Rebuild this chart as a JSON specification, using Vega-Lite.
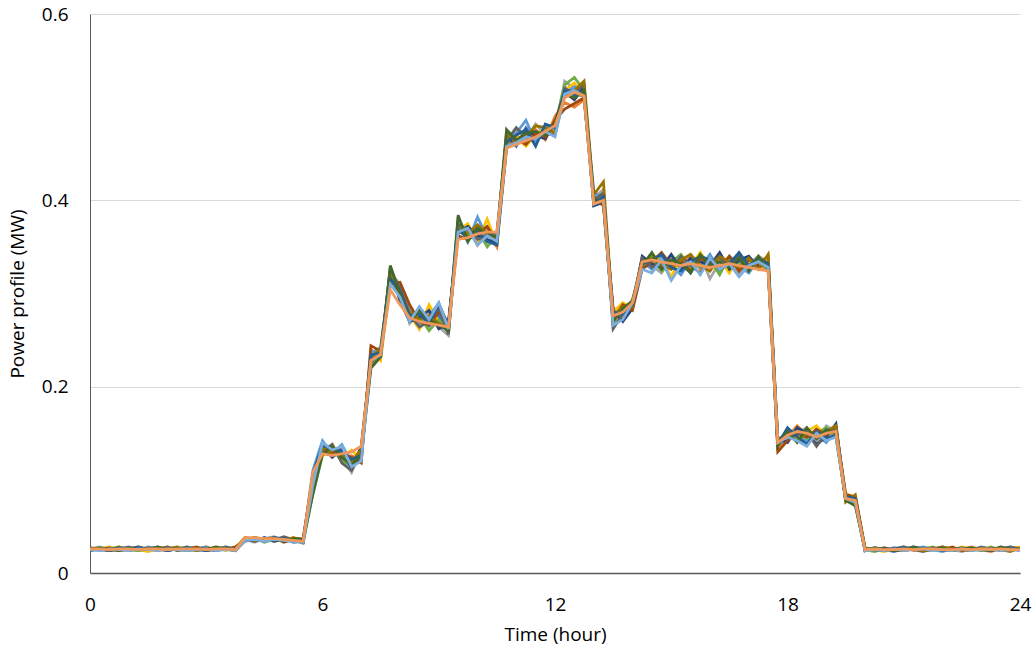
{
"$schema": "https://vega.github.io/schema/vega-lite/v6.json",
"width": 930,
"height": 559,
"autosize": {"type": "none"},
"padding": {"left": 90, "top": 14, "right": 13, "bottom": 77},
"background": "white",
"config": {"view": {"stroke": null}, "font": "Open Sans"},
"data": {"values": [
{"s":"a","t":0,"v":0.025},{"s":"a","t":0.25,"v":0.027},{"s":"a","t":0.5,"v":0.024},{"s":"a","t":0.75,"v":0.026},{"s":"a","t":1,"v":0.028},{"s":"a","t":1.25,"v":0.025},{"s":"a","t":1.5,"v":0.024},{"s":"a","t":1.75,"v":0.027},{"s":"a","t":2,"v":0.026},{"s":"a","t":2.25,"v":0.025},{"s":"a","t":2.5,"v":0.028},{"s":"a","t":2.75,"v":0.026},{"s":"a","t":3,"v":0.024},{"s":"a","t":3.25,"v":0.025},{"s":"a","t":3.5,"v":0.027},{"s":"a","t":3.75,"v":0.026},
{"s":"a","t":4,"v":0.037},{"s":"a","t":4.25,"v":0.034},{"s":"a","t":4.5,"v":0.038},{"s":"a","t":4.75,"v":0.035},{"s":"a","t":5,"v":0.037},{"s":"a","t":5.25,"v":0.033},
{"s":"a","t":5.5,"v":0.034},{"s":"a","t":5.75,"v":0.095},{"s":"a","t":6,"v":0.138},{"s":"a","t":6.25,"v":0.126},{"s":"a","t":6.5,"v":0.134},{"s":"a","t":6.75,"v":0.114},{"s":"a","t":7,"v":0.131},{"s":"a","t":7.25,"v":0.228},{"s":"a","t":7.5,"v":0.240},
{"s":"a","t":7.75,"v":0.325},{"s":"a","t":8,"v":0.298},{"s":"a","t":8.25,"v":0.272},{"s":"a","t":8.5,"v":0.281},{"s":"a","t":8.75,"v":0.265},{"s":"a","t":9,"v":0.276},{"s":"a","t":9.25,"v":0.258},
{"s":"a","t":9.5,"v":0.380},{"s":"a","t":9.75,"v":0.358},{"s":"a","t":10,"v":0.371},{"s":"a","t":10.25,"v":0.355},{"s":"a","t":10.5,"v":0.360},
{"s":"a","t":10.75,"v":0.470},{"s":"a","t":11,"v":0.458},{"s":"a","t":11.25,"v":0.478},{"s":"a","t":11.5,"v":0.466},{"s":"a","t":11.75,"v":0.480},{"s":"a","t":12,"v":0.474},
{"s":"a","t":12.25,"v":0.522},{"s":"a","t":12.5,"v":0.512},{"s":"a","t":12.75,"v":0.520},
{"s":"a","t":13,"v":0.396},{"s":"a","t":13.25,"v":0.410},{"s":"a","t":13.5,"v":0.272},{"s":"a","t":13.75,"v":0.285},{"s":"a","t":14,"v":0.290},
{"s":"a","t":14.25,"v":0.338},{"s":"a","t":14.5,"v":0.326},{"s":"a","t":14.75,"v":0.340},{"s":"a","t":15,"v":0.329},{"s":"a","t":15.25,"v":0.335},{"s":"a","t":15.5,"v":0.322},{"s":"a","t":15.75,"v":0.338},{"s":"a","t":16,"v":0.330},{"s":"a","t":16.25,"v":0.342},{"s":"a","t":16.5,"v":0.327},{"s":"a","t":16.75,"v":0.334},{"s":"a","t":17,"v":0.325},{"s":"a","t":17.25,"v":0.336},{"s":"a","t":17.5,"v":0.330},
{"s":"a","t":17.75,"v":0.142},{"s":"a","t":18,"v":0.152},{"s":"a","t":18.25,"v":0.146},{"s":"a","t":18.5,"v":0.140},{"s":"a","t":18.75,"v":0.155},{"s":"a","t":19,"v":0.144},{"s":"a","t":19.25,"v":0.157},
{"s":"a","t":19.5,"v":0.084},{"s":"a","t":19.75,"v":0.076},
{"s":"a","t":20,"v":0.024},{"s":"a","t":20.25,"v":0.027},{"s":"a","t":20.5,"v":0.025},{"s":"a","t":20.75,"v":0.023},{"s":"a","t":21,"v":0.026},{"s":"a","t":21.25,"v":0.028},{"s":"a","t":21.5,"v":0.025},{"s":"a","t":21.75,"v":0.024},{"s":"a","t":22,"v":0.026},{"s":"a","t":22.25,"v":0.027},{"s":"a","t":22.5,"v":0.024},{"s":"a","t":22.75,"v":0.025},{"s":"a","t":23,"v":0.028},{"s":"a","t":23.25,"v":0.026},{"s":"a","t":23.5,"v":0.024},{"s":"a","t":23.75,"v":0.025},{"s":"a","t":24,"v":0.027},

{"s":"b","t":0,"v":0.027},{"s":"b","t":0.25,"v":0.025},{"s":"b","t":0.5,"v":0.026},{"s":"b","t":0.75,"v":0.024},{"s":"b","t":1,"v":0.026},{"s":"b","t":1.25,"v":0.028},{"s":"b","t":1.5,"v":0.026},{"s":"b","t":1.75,"v":0.025},{"s":"b","t":2,"v":0.024},{"s":"b","t":2.25,"v":0.027},{"s":"b","t":2.5,"v":0.025},{"s":"b","t":2.75,"v":0.026},{"s":"b","t":3,"v":0.028},{"s":"b","t":3.25,"v":0.025},{"s":"b","t":3.5,"v":0.026},{"s":"b","t":3.75,"v":0.024},
{"s":"b","t":4,"v":0.035},{"s":"b","t":4.25,"v":0.038},{"s":"b","t":4.5,"v":0.036},{"s":"b","t":4.75,"v":0.034},{"s":"b","t":5,"v":0.038},{"s":"b","t":5.25,"v":0.036},
{"s":"b","t":5.5,"v":0.036},{"s":"b","t":5.75,"v":0.104},{"s":"b","t":6,"v":0.130},{"s":"b","t":6.25,"v":0.136},{"s":"b","t":6.5,"v":0.125},{"s":"b","t":6.75,"v":0.126},{"s":"b","t":7,"v":0.120},{"s":"b","t":7.25,"v":0.240},{"s":"b","t":7.5,"v":0.230},
{"s":"b","t":7.75,"v":0.312},{"s":"b","t":8,"v":0.305},{"s":"b","t":8.25,"v":0.285},{"s":"b","t":8.5,"v":0.262},{"s":"b","t":8.75,"v":0.278},{"s":"b","t":9,"v":0.268},{"s":"b","t":9.25,"v":0.270},
{"s":"b","t":9.5,"v":0.365},{"s":"b","t":9.75,"v":0.370},{"s":"b","t":10,"v":0.352},{"s":"b","t":10.25,"v":0.368},{"s":"b","t":10.5,"v":0.350},
{"s":"b","t":10.75,"v":0.455},{"s":"b","t":11,"v":0.470},{"s":"b","t":11.25,"v":0.462},{"s":"b","t":11.5,"v":0.476},{"s":"b","t":11.75,"v":0.465},{"s":"b","t":12,"v":0.490},
{"s":"b","t":12.25,"v":0.505},{"s":"b","t":12.5,"v":0.500},{"s":"b","t":12.75,"v":0.508},
{"s":"b","t":13,"v":0.405},{"s":"b","t":13.25,"v":0.398},{"s":"b","t":13.5,"v":0.285},{"s":"b","t":13.75,"v":0.276},{"s":"b","t":14,"v":0.292},
{"s":"b","t":14.25,"v":0.328},{"s":"b","t":14.5,"v":0.338},{"s":"b","t":14.75,"v":0.325},{"s":"b","t":15,"v":0.336},{"s":"b","t":15.25,"v":0.330},{"s":"b","t":15.5,"v":0.340},{"s":"b","t":15.75,"v":0.326},{"s":"b","t":16,"v":0.334},{"s":"b","t":16.25,"v":0.322},{"s":"b","t":16.5,"v":0.338},{"s":"b","t":16.75,"v":0.328},{"s":"b","t":17,"v":0.336},{"s":"b","t":17.25,"v":0.330},{"s":"b","t":17.5,"v":0.326},
{"s":"b","t":17.75,"v":0.134},{"s":"b","t":18,"v":0.146},{"s":"b","t":18.25,"v":0.158},{"s":"b","t":18.5,"v":0.148},{"s":"b","t":18.75,"v":0.142},{"s":"b","t":19,"v":0.152},{"s":"b","t":19.25,"v":0.148},
{"s":"b","t":19.5,"v":0.080},{"s":"b","t":19.75,"v":0.082},
{"s":"b","t":20,"v":0.026},{"s":"b","t":20.25,"v":0.024},{"s":"b","t":20.5,"v":0.027},{"s":"b","t":20.75,"v":0.025},{"s":"b","t":21,"v":0.028},{"s":"b","t":21.25,"v":0.024},{"s":"b","t":21.5,"v":0.026},{"s":"b","t":21.75,"v":0.025},{"s":"b","t":22,"v":0.027},{"s":"b","t":22.25,"v":0.024},{"s":"b","t":22.5,"v":0.026},{"s":"b","t":22.75,"v":0.028},{"s":"b","t":23,"v":0.025},{"s":"b","t":23.25,"v":0.023},{"s":"b","t":23.5,"v":0.026},{"s":"b","t":23.75,"v":0.027},{"s":"b","t":24,"v":0.025},

{"s":"c","t":0,"v":0.026},{"s":"c","t":0.25,"v":0.028},{"s":"c","t":0.5,"v":0.025},{"s":"c","t":0.75,"v":0.027},{"s":"c","t":1,"v":0.024},{"s":"c","t":1.25,"v":0.026},{"s":"c","t":1.5,"v":0.027},{"s":"c","t":1.75,"v":0.025},{"s":"c","t":2,"v":0.028},{"s":"c","t":2.25,"v":0.026},{"s":"c","t":2.5,"v":0.024},{"s":"c","t":2.75,"v":0.027},{"s":"c","t":3,"v":0.025},{"s":"c","t":3.25,"v":0.026},{"s":"c","t":3.5,"v":0.028},{"s":"c","t":3.75,"v":0.025},
{"s":"c","t":4,"v":0.036},{"s":"c","t":4.25,"v":0.033},{"s":"c","t":4.5,"v":0.037},{"s":"c","t":4.75,"v":0.039},{"s":"c","t":5,"v":0.034},{"s":"c","t":5.25,"v":0.037},
{"s":"c","t":5.5,"v":0.033},{"s":"c","t":5.75,"v":0.088},{"s":"c","t":6,"v":0.140},{"s":"c","t":6.25,"v":0.132},{"s":"c","t":6.5,"v":0.122},{"s":"c","t":6.75,"v":0.108},{"s":"c","t":7,"v":0.134},{"s":"c","t":7.25,"v":0.225},{"s":"c","t":7.5,"v":0.236},
{"s":"c","t":7.75,"v":0.322},{"s":"c","t":8,"v":0.310},{"s":"c","t":8.25,"v":0.268},{"s":"c","t":8.5,"v":0.280},{"s":"c","t":8.75,"v":0.272},{"s":"c","t":9,"v":0.264},{"s":"c","t":9.25,"v":0.255},
{"s":"c","t":9.5,"v":0.378},{"s":"c","t":9.75,"v":0.366},{"s":"c","t":10,"v":0.360},{"s":"c","t":10.25,"v":0.372},{"s":"c","t":10.5,"v":0.358},
{"s":"c","t":10.75,"v":0.460},{"s":"c","t":11,"v":0.475},{"s":"c","t":11.25,"v":0.466},{"s":"c","t":11.5,"v":0.482},{"s":"c","t":11.75,"v":0.470},{"s":"c","t":12,"v":0.476},
{"s":"c","t":12.25,"v":0.528},{"s":"c","t":12.5,"v":0.520},{"s":"c","t":12.75,"v":0.514},
{"s":"c","t":13,"v":0.402},{"s":"c","t":13.25,"v":0.412},{"s":"c","t":13.5,"v":0.265},{"s":"c","t":13.75,"v":0.280},{"s":"c","t":14,"v":0.286},
{"s":"c","t":14.25,"v":0.336},{"s":"c","t":14.5,"v":0.330},{"s":"c","t":14.75,"v":0.322},{"s":"c","t":15,"v":0.338},{"s":"c","t":15.25,"v":0.332},{"s":"c","t":15.5,"v":0.326},{"s":"c","t":15.75,"v":0.340},{"s":"c","t":16,"v":0.316},{"s":"c","t":16.25,"v":0.334},{"s":"c","t":16.5,"v":0.338},{"s":"c","t":16.75,"v":0.320},{"s":"c","t":17,"v":0.332},{"s":"c","t":17.25,"v":0.340},{"s":"c","t":17.5,"v":0.334},
{"s":"c","t":17.75,"v":0.140},{"s":"c","t":18,"v":0.154},{"s":"c","t":18.25,"v":0.150},{"s":"c","t":18.5,"v":0.156},{"s":"c","t":18.75,"v":0.140},{"s":"c","t":19,"v":0.158},{"s":"c","t":19.25,"v":0.152},
{"s":"c","t":19.5,"v":0.078},{"s":"c","t":19.75,"v":0.076},
{"s":"c","t":20,"v":0.025},{"s":"c","t":20.25,"v":0.027},{"s":"c","t":20.5,"v":0.024},{"s":"c","t":20.75,"v":0.026},{"s":"c","t":21,"v":0.025},{"s":"c","t":21.25,"v":0.028},{"s":"c","t":21.5,"v":0.026},{"s":"c","t":21.75,"v":0.024},{"s":"c","t":22,"v":0.027},{"s":"c","t":22.25,"v":0.025},{"s":"c","t":22.5,"v":0.023},{"s":"c","t":22.75,"v":0.026},{"s":"c","t":23,"v":0.027},{"s":"c","t":23.25,"v":0.025},{"s":"c","t":23.5,"v":0.028},{"s":"c","t":23.75,"v":0.024},{"s":"c","t":24,"v":0.026},

{"s":"d","t":0,"v":0.024},{"s":"d","t":0.25,"v":0.026},{"s":"d","t":0.5,"v":0.028},{"s":"d","t":0.75,"v":0.025},{"s":"d","t":1,"v":0.027},{"s":"d","t":1.25,"v":0.025},{"s":"d","t":1.5,"v":0.023},{"s":"d","t":1.75,"v":0.026},{"s":"d","t":2,"v":0.028},{"s":"d","t":2.25,"v":0.024},{"s":"d","t":2.5,"v":0.026},{"s":"d","t":2.75,"v":0.027},{"s":"d","t":3,"v":0.025},{"s":"d","t":3.25,"v":0.028},{"s":"d","t":3.5,"v":0.024},{"s":"d","t":3.75,"v":0.027},
{"s":"d","t":4,"v":0.038},{"s":"d","t":4.25,"v":0.036},{"s":"d","t":4.5,"v":0.034},{"s":"d","t":4.75,"v":0.037},{"s":"d","t":5,"v":0.035},{"s":"d","t":5.25,"v":0.038},
{"s":"d","t":5.5,"v":0.035},{"s":"d","t":5.75,"v":0.098},{"s":"d","t":6,"v":0.128},{"s":"d","t":6.25,"v":0.138},{"s":"d","t":6.5,"v":0.124},{"s":"d","t":6.75,"v":0.132},{"s":"d","t":7,"v":0.122},{"s":"d","t":7.25,"v":0.238},{"s":"d","t":7.5,"v":0.228},
{"s":"d","t":7.75,"v":0.316},{"s":"d","t":8,"v":0.296},{"s":"d","t":8.25,"v":0.276},{"s":"d","t":8.5,"v":0.262},{"s":"d","t":8.75,"v":0.288},{"s":"d","t":9,"v":0.270},{"s":"d","t":9.25,"v":0.262},
{"s":"d","t":9.5,"v":0.368},{"s":"d","t":9.75,"v":0.375},{"s":"d","t":10,"v":0.356},{"s":"d","t":10.25,"v":0.380},{"s":"d","t":10.5,"v":0.352},
{"s":"d","t":10.75,"v":0.462},{"s":"d","t":11,"v":0.468},{"s":"d","t":11.25,"v":0.458},{"s":"d","t":11.5,"v":0.470},{"s":"d","t":11.75,"v":0.478},{"s":"d","t":12,"v":0.472},
{"s":"d","t":12.25,"v":0.518},{"s":"d","t":12.5,"v":0.526},{"s":"d","t":12.75,"v":0.512},
{"s":"d","t":13,"v":0.398},{"s":"d","t":13.25,"v":0.402},{"s":"d","t":13.5,"v":0.280},{"s":"d","t":13.75,"v":0.290},{"s":"d","t":14,"v":0.284},
{"s":"d","t":14.25,"v":0.330},{"s":"d","t":14.5,"v":0.342},{"s":"d","t":14.75,"v":0.336},{"s":"d","t":15,"v":0.318},{"s":"d","t":15.25,"v":0.338},{"s":"d","t":15.5,"v":0.330},{"s":"d","t":15.75,"v":0.344},{"s":"d","t":16,"v":0.328},{"s":"d","t":16.25,"v":0.336},{"s":"d","t":16.5,"v":0.322},{"s":"d","t":16.75,"v":0.340},{"s":"d","t":17,"v":0.334},{"s":"d","t":17.25,"v":0.326},{"s":"d","t":17.5,"v":0.338},
{"s":"d","t":17.75,"v":0.136},{"s":"d","t":18,"v":0.150},{"s":"d","t":18.25,"v":0.144},{"s":"d","t":18.5,"v":0.152},{"s":"d","t":18.75,"v":0.158},{"s":"d","t":19,"v":0.146},{"s":"d","t":19.25,"v":0.150},
{"s":"d","t":19.5,"v":0.086},{"s":"d","t":19.75,"v":0.080},
{"s":"d","t":20,"v":0.027},{"s":"d","t":20.25,"v":0.025},{"s":"d","t":20.5,"v":0.023},{"s":"d","t":20.75,"v":0.026},{"s":"d","t":21,"v":0.028},{"s":"d","t":21.25,"v":0.025},{"s":"d","t":21.5,"v":0.027},{"s":"d","t":21.75,"v":0.024},{"s":"d","t":22,"v":0.026},{"s":"d","t":22.25,"v":0.025},{"s":"d","t":22.5,"v":0.028},{"s":"d","t":22.75,"v":0.026},{"s":"d","t":23,"v":0.024},{"s":"d","t":23.25,"v":0.027},{"s":"d","t":23.5,"v":0.025},{"s":"d","t":23.75,"v":0.026},{"s":"d","t":24,"v":0.028},

{"s":"e","t":0,"v":0.026},{"s":"e","t":0.25,"v":0.024},{"s":"e","t":0.5,"v":0.027},{"s":"e","t":0.75,"v":0.025},{"s":"e","t":1,"v":0.026},{"s":"e","t":1.25,"v":0.024},{"s":"e","t":1.5,"v":0.028},{"s":"e","t":1.75,"v":0.026},{"s":"e","t":2,"v":0.025},{"s":"e","t":2.25,"v":0.027},{"s":"e","t":2.5,"v":0.024},{"s":"e","t":2.75,"v":0.026},{"s":"e","t":3,"v":0.028},{"s":"e","t":3.25,"v":0.024},{"s":"e","t":3.5,"v":0.026},{"s":"e","t":3.75,"v":0.025},
{"s":"e","t":4,"v":0.034},{"s":"e","t":4.25,"v":0.037},{"s":"e","t":4.5,"v":0.035},{"s":"e","t":4.75,"v":0.038},{"s":"e","t":5,"v":0.036},{"s":"e","t":5.25,"v":0.034},
{"s":"e","t":5.5,"v":0.034},{"s":"e","t":5.75,"v":0.110},{"s":"e","t":6,"v":0.142},{"s":"e","t":6.25,"v":0.128},{"s":"e","t":6.5,"v":0.138},{"s":"e","t":6.75,"v":0.118},{"s":"e","t":7,"v":0.124},{"s":"e","t":7.25,"v":0.236},{"s":"e","t":7.5,"v":0.242},
{"s":"e","t":7.75,"v":0.318},{"s":"e","t":8,"v":0.300},{"s":"e","t":8.25,"v":0.282},{"s":"e","t":8.5,"v":0.268},{"s":"e","t":8.75,"v":0.275},{"s":"e","t":9,"v":0.290},{"s":"e","t":9.25,"v":0.264},
{"s":"e","t":9.5,"v":0.375},{"s":"e","t":9.75,"v":0.355},{"s":"e","t":10,"v":0.382},{"s":"e","t":10.25,"v":0.360},{"s":"e","t":10.5,"v":0.366},
{"s":"e","t":10.75,"v":0.466},{"s":"e","t":11,"v":0.472},{"s":"e","t":11.25,"v":0.486},{"s":"e","t":11.5,"v":0.462},{"s":"e","t":11.75,"v":0.474},{"s":"e","t":12,"v":0.478},
{"s":"e","t":12.25,"v":0.514},{"s":"e","t":12.5,"v":0.522},{"s":"e","t":12.75,"v":0.516},
{"s":"e","t":13,"v":0.410},{"s":"e","t":13.25,"v":0.400},{"s":"e","t":13.5,"v":0.276},{"s":"e","t":13.75,"v":0.282},{"s":"e","t":14,"v":0.288},
{"s":"e","t":14.25,"v":0.334},{"s":"e","t":14.5,"v":0.326},{"s":"e","t":14.75,"v":0.338},{"s":"e","t":15,"v":0.330},{"s":"e","t":15.25,"v":0.320},{"s":"e","t":15.5,"v":0.336},{"s":"e","t":15.75,"v":0.328},{"s":"e","t":16,"v":0.342},{"s":"e","t":16.25,"v":0.324},{"s":"e","t":16.5,"v":0.338},{"s":"e","t":16.75,"v":0.330},{"s":"e","t":17,"v":0.322},{"s":"e","t":17.25,"v":0.336},{"s":"e","t":17.5,"v":0.328},
{"s":"e","t":17.75,"v":0.138},{"s":"e","t":18,"v":0.144},{"s":"e","t":18.25,"v":0.152},{"s":"e","t":18.5,"v":0.142},{"s":"e","t":18.75,"v":0.148},{"s":"e","t":19,"v":0.140},{"s":"e","t":19.25,"v":0.154},
{"s":"e","t":19.5,"v":0.082},{"s":"e","t":19.75,"v":0.078},
{"s":"e","t":20,"v":0.024},{"s":"e","t":20.25,"v":0.026},{"s":"e","t":20.5,"v":0.025},{"s":"e","t":20.75,"v":0.027},{"s":"e","t":21,"v":0.024},{"s":"e","t":21.25,"v":0.026},{"s":"e","t":21.5,"v":0.028},{"s":"e","t":21.75,"v":0.025},{"s":"e","t":22,"v":0.023},{"s":"e","t":22.25,"v":0.026},{"s":"e","t":22.5,"v":0.025},{"s":"e","t":22.75,"v":0.027},{"s":"e","t":23,"v":0.024},{"s":"e","t":23.25,"v":0.026},{"s":"e","t":23.5,"v":0.025},{"s":"e","t":23.75,"v":0.028},{"s":"e","t":24,"v":0.025},

{"s":"f","t":0,"v":0.025},{"s":"f","t":0.25,"v":0.027},{"s":"f","t":0.5,"v":0.026},{"s":"f","t":0.75,"v":0.028},{"s":"f","t":1,"v":0.025},{"s":"f","t":1.25,"v":0.024},{"s":"f","t":1.5,"v":0.026},{"s":"f","t":1.75,"v":0.027},{"s":"f","t":2,"v":0.025},{"s":"f","t":2.25,"v":0.026},{"s":"f","t":2.5,"v":0.028},{"s":"f","t":2.75,"v":0.024},{"s":"f","t":3,"v":0.027},{"s":"f","t":3.25,"v":0.026},{"s":"f","t":3.5,"v":0.025},{"s":"f","t":3.75,"v":0.027},
{"s":"f","t":4,"v":0.036},{"s":"f","t":4.25,"v":0.038},{"s":"f","t":4.5,"v":0.033},{"s":"f","t":4.75,"v":0.036},{"s":"f","t":5,"v":0.038},{"s":"f","t":5.25,"v":0.035},
{"s":"f","t":5.5,"v":0.032},{"s":"f","t":5.75,"v":0.085},{"s":"f","t":6,"v":0.126},{"s":"f","t":6.25,"v":0.134},{"s":"f","t":6.5,"v":0.120},{"s":"f","t":6.75,"v":0.116},{"s":"f","t":7,"v":0.128},{"s":"f","t":7.25,"v":0.222},{"s":"f","t":7.5,"v":0.234},
{"s":"f","t":7.75,"v":0.320},{"s":"f","t":8,"v":0.304},{"s":"f","t":8.25,"v":0.274},{"s":"f","t":8.5,"v":0.276},{"s":"f","t":8.75,"v":0.260},{"s":"f","t":9,"v":0.272},{"s":"f","t":9.25,"v":0.260},
{"s":"f","t":9.5,"v":0.370},{"s":"f","t":9.75,"v":0.362},{"s":"f","t":10,"v":0.368},{"s":"f","t":10.25,"v":0.350},{"s":"f","t":10.5,"v":0.362},
{"s":"f","t":10.75,"v":0.458},{"s":"f","t":11,"v":0.464},{"s":"f","t":11.25,"v":0.470},{"s":"f","t":11.5,"v":0.468},{"s":"f","t":11.75,"v":0.476},{"s":"f","t":12,"v":0.480},
{"s":"f","t":12.25,"v":0.524},{"s":"f","t":12.5,"v":0.532},{"s":"f","t":12.75,"v":0.518},
{"s":"f","t":13,"v":0.398},{"s":"f","t":13.25,"v":0.404},{"s":"f","t":13.5,"v":0.268},{"s":"f","t":13.75,"v":0.274},{"s":"f","t":14,"v":0.294},
{"s":"f","t":14.25,"v":0.332},{"s":"f","t":14.5,"v":0.340},{"s":"f","t":14.75,"v":0.324},{"s":"f","t":15,"v":0.334},{"s":"f","t":15.25,"v":0.342},{"s":"f","t":15.5,"v":0.328},{"s":"f","t":15.75,"v":0.330},{"s":"f","t":16,"v":0.336},{"s":"f","t":16.25,"v":0.320},{"s":"f","t":16.5,"v":0.340},{"s":"f","t":16.75,"v":0.332},{"s":"f","t":17,"v":0.328},{"s":"f","t":17.25,"v":0.338},{"s":"f","t":17.5,"v":0.324},
{"s":"f","t":17.75,"v":0.140},{"s":"f","t":18,"v":0.148},{"s":"f","t":18.25,"v":0.154},{"s":"f","t":18.5,"v":0.144},{"s":"f","t":18.75,"v":0.150},{"s":"f","t":19,"v":0.156},{"s":"f","t":19.25,"v":0.146},
{"s":"f","t":19.5,"v":0.080},{"s":"f","t":19.75,"v":0.074},
{"s":"f","t":20,"v":0.025},{"s":"f","t":20.25,"v":0.023},{"s":"f","t":20.5,"v":0.026},{"s":"f","t":20.75,"v":0.024},{"s":"f","t":21,"v":0.027},{"s":"f","t":21.25,"v":0.025},{"s":"f","t":21.5,"v":0.026},{"s":"f","t":21.75,"v":0.028},{"s":"f","t":22,"v":0.024},{"s":"f","t":22.25,"v":0.025},{"s":"f","t":22.5,"v":0.027},{"s":"f","t":22.75,"v":0.026},{"s":"f","t":23,"v":0.024},{"s":"f","t":23.25,"v":0.028},{"s":"f","t":23.5,"v":0.025},{"s":"f","t":23.75,"v":0.027},{"s":"f","t":24,"v":0.024},

{"s":"g","t":0,"v":0.027},{"s":"g","t":0.25,"v":0.025},{"s":"g","t":0.5,"v":0.024},{"s":"g","t":0.75,"v":0.026},{"s":"g","t":1,"v":0.027},{"s":"g","t":1.25,"v":0.026},{"s":"g","t":1.5,"v":0.025},{"s":"g","t":1.75,"v":0.028},{"s":"g","t":2,"v":0.024},{"s":"g","t":2.25,"v":0.026},{"s":"g","t":2.5,"v":0.027},{"s":"g","t":2.75,"v":0.025},{"s":"g","t":3,"v":0.026},{"s":"g","t":3.25,"v":0.024},{"s":"g","t":3.5,"v":0.027},{"s":"g","t":3.75,"v":0.026},
{"s":"g","t":4,"v":0.037},{"s":"g","t":4.25,"v":0.035},{"s":"g","t":4.5,"v":0.038},{"s":"g","t":4.75,"v":0.034},{"s":"g","t":5,"v":0.036},{"s":"g","t":5.25,"v":0.037},
{"s":"g","t":5.5,"v":0.036},{"s":"g","t":5.75,"v":0.092},{"s":"g","t":6,"v":0.136},{"s":"g","t":6.25,"v":0.124},{"s":"g","t":6.5,"v":0.132},{"s":"g","t":6.75,"v":0.112},{"s":"g","t":7,"v":0.136},{"s":"g","t":7.25,"v":0.230},{"s":"g","t":7.5,"v":0.232},
{"s":"g","t":7.75,"v":0.328},{"s":"g","t":8,"v":0.292},{"s":"g","t":8.25,"v":0.270},{"s":"g","t":8.5,"v":0.274},{"s":"g","t":8.75,"v":0.282},{"s":"g","t":9,"v":0.262},{"s":"g","t":9.25,"v":0.268},
{"s":"g","t":9.5,"v":0.366},{"s":"g","t":9.75,"v":0.372},{"s":"g","t":10,"v":0.362},{"s":"g","t":10.25,"v":0.358},{"s":"g","t":10.5,"v":0.354},
{"s":"g","t":10.75,"v":0.468},{"s":"g","t":11,"v":0.460},{"s":"g","t":11.25,"v":0.474},{"s":"g","t":11.5,"v":0.470},{"s":"g","t":11.75,"v":0.466},{"s":"g","t":12,"v":0.484},
{"s":"g","t":12.25,"v":0.516},{"s":"g","t":12.5,"v":0.508},{"s":"g","t":12.75,"v":0.522},
{"s":"g","t":13,"v":0.394},{"s":"g","t":13.25,"v":0.398},{"s":"g","t":13.5,"v":0.282},{"s":"g","t":13.75,"v":0.270},{"s":"g","t":14,"v":0.284},
{"s":"g","t":14.25,"v":0.340},{"s":"g","t":14.5,"v":0.332},{"s":"g","t":14.75,"v":0.328},{"s":"g","t":15,"v":0.342},{"s":"g","t":15.25,"v":0.326},{"s":"g","t":15.5,"v":0.338},{"s":"g","t":15.75,"v":0.334},{"s":"g","t":16,"v":0.330},{"s":"g","t":16.25,"v":0.344},{"s":"g","t":16.5,"v":0.326},{"s":"g","t":16.75,"v":0.336},{"s":"g","t":17,"v":0.340},{"s":"g","t":17.25,"v":0.328},{"s":"g","t":17.5,"v":0.334},
{"s":"g","t":17.75,"v":0.144},{"s":"g","t":18,"v":0.140},{"s":"g","t":18.25,"v":0.156},{"s":"g","t":18.5,"v":0.150},{"s":"g","t":18.75,"v":0.138},{"s":"g","t":19,"v":0.146},{"s":"g","t":19.25,"v":0.160},
{"s":"g","t":19.5,"v":0.078},{"s":"g","t":19.75,"v":0.080},
{"s":"g","t":20,"v":0.026},{"s":"g","t":20.25,"v":0.025},{"s":"g","t":20.5,"v":0.027},{"s":"g","t":20.75,"v":0.024},{"s":"g","t":21,"v":0.025},{"s":"g","t":21.25,"v":0.027},{"s":"g","t":21.5,"v":0.024},{"s":"g","t":21.75,"v":0.026},{"s":"g","t":22,"v":0.028},{"s":"g","t":22.25,"v":0.025},{"s":"g","t":22.5,"v":0.026},{"s":"g","t":22.75,"v":0.024},{"s":"g","t":23,"v":0.027},{"s":"g","t":23.25,"v":0.025},{"s":"g","t":23.5,"v":0.026},{"s":"g","t":23.75,"v":0.024},{"s":"g","t":24,"v":0.026},

{"s":"h","t":0,"v":0.026},{"s":"h","t":0.25,"v":0.025},{"s":"h","t":0.5,"v":0.027},{"s":"h","t":0.75,"v":0.024},{"s":"h","t":1,"v":0.025},{"s":"h","t":1.25,"v":0.027},{"s":"h","t":1.5,"v":0.026},{"s":"h","t":1.75,"v":0.024},{"s":"h","t":2,"v":0.027},{"s":"h","t":2.25,"v":0.025},{"s":"h","t":2.5,"v":0.026},{"s":"h","t":2.75,"v":0.028},{"s":"h","t":3,"v":0.024},{"s":"h","t":3.25,"v":0.026},{"s":"h","t":3.5,"v":0.025},{"s":"h","t":3.75,"v":0.028},
{"s":"h","t":4,"v":0.035},{"s":"h","t":4.25,"v":0.037},{"s":"h","t":4.5,"v":0.036},{"s":"h","t":4.75,"v":0.038},{"s":"h","t":5,"v":0.033},{"s":"h","t":5.25,"v":0.036},
{"s":"h","t":5.5,"v":0.037},{"s":"h","t":5.75,"v":0.102},{"s":"h","t":6,"v":0.132},{"s":"h","t":6.25,"v":0.130},{"s":"h","t":6.5,"v":0.128},{"s":"h","t":6.75,"v":0.124},{"s":"h","t":7,"v":0.118},{"s":"h","t":7.25,"v":0.244},{"s":"h","t":7.5,"v":0.238},
{"s":"h","t":7.75,"v":0.310},{"s":"h","t":8,"v":0.312},{"s":"h","t":8.25,"v":0.288},{"s":"h","t":8.5,"v":0.270},{"s":"h","t":8.75,"v":0.266},{"s":"h","t":9,"v":0.280},{"s":"h","t":9.25,"v":0.268},
{"s":"h","t":9.5,"v":0.362},{"s":"h","t":9.75,"v":0.358},{"s":"h","t":10,"v":0.364},{"s":"h","t":10.25,"v":0.372},{"s":"h","t":10.5,"v":0.356},
{"s":"h","t":10.75,"v":0.456},{"s":"h","t":11,"v":0.466},{"s":"h","t":11.25,"v":0.460},{"s":"h","t":11.5,"v":0.472},{"s":"h","t":11.75,"v":0.468},{"s":"h","t":12,"v":0.486},
{"s":"h","t":12.25,"v":0.498},{"s":"h","t":12.5,"v":0.504},{"s":"h","t":12.75,"v":0.510},
{"s":"h","t":13,"v":0.404},{"s":"h","t":13.25,"v":0.394},{"s":"h","t":13.5,"v":0.272},{"s":"h","t":13.75,"v":0.288},{"s":"h","t":14,"v":0.282},
{"s":"h","t":14.25,"v":0.326},{"s":"h","t":14.5,"v":0.334},{"s":"h","t":14.75,"v":0.344},{"s":"h","t":15,"v":0.330},{"s":"h","t":15.25,"v":0.336},{"s":"h","t":15.5,"v":0.324},{"s":"h","t":15.75,"v":0.338},{"s":"h","t":16,"v":0.332},{"s":"h","t":16.25,"v":0.328},{"s":"h","t":16.5,"v":0.340},{"s":"h","t":16.75,"v":0.324},{"s":"h","t":17,"v":0.336},{"s":"h","t":17.25,"v":0.332},{"s":"h","t":17.5,"v":0.340},
{"s":"h","t":17.75,"v":0.130},{"s":"h","t":18,"v":0.142},{"s":"h","t":18.25,"v":0.150},{"s":"h","t":18.5,"v":0.146},{"s":"h","t":18.75,"v":0.154},{"s":"h","t":19,"v":0.148},{"s":"h","t":19.25,"v":0.156},
{"s":"h","t":19.5,"v":0.084},{"s":"h","t":19.75,"v":0.082},
{"s":"h","t":20,"v":0.024},{"s":"h","t":20.25,"v":0.027},{"s":"h","t":20.5,"v":0.025},{"s":"h","t":20.75,"v":0.026},{"s":"h","t":21,"v":0.024},{"s":"h","t":21.25,"v":0.026},{"s":"h","t":21.5,"v":0.025},{"s":"h","t":21.75,"v":0.027},{"s":"h","t":22,"v":0.025},{"s":"h","t":22.25,"v":0.028},{"s":"h","t":22.5,"v":0.024},{"s":"h","t":22.75,"v":0.026},{"s":"h","t":23,"v":0.025},{"s":"h","t":23.25,"v":0.027},{"s":"h","t":23.5,"v":0.024},{"s":"h","t":23.75,"v":0.026},{"s":"h","t":24,"v":0.025},

{"s":"i","t":0,"v":0.025},{"s":"i","t":0.25,"v":0.026},{"s":"i","t":0.5,"v":0.024},{"s":"i","t":0.75,"v":0.027},{"s":"i","t":1,"v":0.026},{"s":"i","t":1.25,"v":0.025},{"s":"i","t":1.5,"v":0.027},{"s":"i","t":1.75,"v":0.026},{"s":"i","t":2,"v":0.028},{"s":"i","t":2.25,"v":0.024},{"s":"i","t":2.5,"v":0.025},{"s":"i","t":2.75,"v":0.026},{"s":"i","t":3,"v":0.027},{"s":"i","t":3.25,"v":0.025},{"s":"i","t":3.5,"v":0.028},{"s":"i","t":3.75,"v":0.026},
{"s":"i","t":4,"v":0.036},{"s":"i","t":4.25,"v":0.034},{"s":"i","t":4.5,"v":0.037},{"s":"i","t":4.75,"v":0.035},{"s":"i","t":5,"v":0.039},{"s":"i","t":5.25,"v":0.036},
{"s":"i","t":5.5,"v":0.034},{"s":"i","t":5.75,"v":0.090},{"s":"i","t":6,"v":0.130},{"s":"i","t":6.25,"v":0.138},{"s":"i","t":6.5,"v":0.118},{"s":"i","t":6.75,"v":0.110},{"s":"i","t":7,"v":0.130},{"s":"i","t":7.25,"v":0.226},{"s":"i","t":7.5,"v":0.236},
{"s":"i","t":7.75,"v":0.322},{"s":"i","t":8,"v":0.306},{"s":"i","t":8.25,"v":0.278},{"s":"i","t":8.5,"v":0.264},{"s":"i","t":8.75,"v":0.270},{"s":"i","t":9,"v":0.284},{"s":"i","t":9.25,"v":0.256},
{"s":"i","t":9.5,"v":0.374},{"s":"i","t":9.75,"v":0.368},{"s":"i","t":10,"v":0.358},{"s":"i","t":10.25,"v":0.362},{"s":"i","t":10.5,"v":0.362},
{"s":"i","t":10.75,"v":0.464},{"s":"i","t":11,"v":0.478},{"s":"i","t":11.25,"v":0.468},{"s":"i","t":11.5,"v":0.466},{"s":"i","t":11.75,"v":0.472},{"s":"i","t":12,"v":0.470},
{"s":"i","t":12.25,"v":0.520},{"s":"i","t":12.5,"v":0.516},{"s":"i","t":12.75,"v":0.524},
{"s":"i","t":13,"v":0.400},{"s":"i","t":13.25,"v":0.408},{"s":"i","t":13.5,"v":0.262},{"s":"i","t":13.75,"v":0.278},{"s":"i","t":14,"v":0.290},
{"s":"i","t":14.25,"v":0.338},{"s":"i","t":14.5,"v":0.328},{"s":"i","t":14.75,"v":0.334},{"s":"i","t":15,"v":0.326},{"s":"i","t":15.25,"v":0.340},{"s":"i","t":15.5,"v":0.330},{"s":"i","t":15.75,"v":0.322},{"s":"i","t":16,"v":0.336},{"s":"i","t":16.25,"v":0.338},{"s":"i","t":16.5,"v":0.330},{"s":"i","t":16.75,"v":0.342},{"s":"i","t":17,"v":0.326},{"s":"i","t":17.25,"v":0.334},{"s":"i","t":17.5,"v":0.330},
{"s":"i","t":17.75,"v":0.140},{"s":"i","t":18,"v":0.150},{"s":"i","t":18.25,"v":0.148},{"s":"i","t":18.5,"v":0.152},{"s":"i","t":18.75,"v":0.136},{"s":"i","t":19,"v":0.150},{"s":"i","t":19.25,"v":0.154},
{"s":"i","t":19.5,"v":0.080},{"s":"i","t":19.75,"v":0.076},
{"s":"i","t":20,"v":0.025},{"s":"i","t":20.25,"v":0.026},{"s":"i","t":20.5,"v":0.024},{"s":"i","t":20.75,"v":0.027},{"s":"i","t":21,"v":0.026},{"s":"i","t":21.25,"v":0.025},{"s":"i","t":21.5,"v":0.023},{"s":"i","t":21.75,"v":0.026},{"s":"i","t":22,"v":0.027},{"s":"i","t":22.25,"v":0.024},{"s":"i","t":22.5,"v":0.026},{"s":"i","t":22.75,"v":0.025},{"s":"i","t":23,"v":0.027},{"s":"i","t":23.25,"v":0.024},{"s":"i","t":23.5,"v":0.026},{"s":"i","t":23.75,"v":0.028},{"s":"i","t":24,"v":0.026},

{"s":"j","t":0,"v":0.027},{"s":"j","t":0.25,"v":0.026},{"s":"j","t":0.5,"v":0.025},{"s":"j","t":0.75,"v":0.028},{"s":"j","t":1,"v":0.024},{"s":"j","t":1.25,"v":0.026},{"s":"j","t":1.5,"v":0.025},{"s":"j","t":1.75,"v":0.027},{"s":"j","t":2,"v":0.026},{"s":"j","t":2.25,"v":0.028},{"s":"j","t":2.5,"v":0.025},{"s":"j","t":2.75,"v":0.024},{"s":"j","t":3,"v":0.026},{"s":"j","t":3.25,"v":0.027},{"s":"j","t":3.5,"v":0.025},{"s":"j","t":3.75,"v":0.026},
{"s":"j","t":4,"v":0.038},{"s":"j","t":4.25,"v":0.035},{"s":"j","t":4.5,"v":0.037},{"s":"j","t":4.75,"v":0.036},{"s":"j","t":5,"v":0.035},{"s":"j","t":5.25,"v":0.038},
{"s":"j","t":5.5,"v":0.035},{"s":"j","t":5.75,"v":0.096},{"s":"j","t":6,"v":0.134},{"s":"j","t":6.25,"v":0.128},{"s":"j","t":6.5,"v":0.126},{"s":"j","t":6.75,"v":0.120},{"s":"j","t":7,"v":0.132},{"s":"j","t":7.25,"v":0.232},{"s":"j","t":7.5,"v":0.240},
{"s":"j","t":7.75,"v":0.320},{"s":"j","t":8,"v":0.298},{"s":"j","t":8.25,"v":0.280},{"s":"j","t":8.5,"v":0.272},{"s":"j","t":8.75,"v":0.276},{"s":"j","t":9,"v":0.268},{"s":"j","t":9.25,"v":0.262},
{"s":"j","t":9.5,"v":0.370},{"s":"j","t":9.75,"v":0.364},{"s":"j","t":10,"v":0.374},{"s":"j","t":10.25,"v":0.364},{"s":"j","t":10.5,"v":0.358},
{"s":"j","t":10.75,"v":0.472},{"s":"j","t":11,"v":0.462},{"s":"j","t":11.25,"v":0.468},{"s":"j","t":11.5,"v":0.480},{"s":"j","t":11.75,"v":0.478},{"s":"j","t":12,"v":0.472},
{"s":"j","t":12.25,"v":0.512},{"s":"j","t":12.5,"v":0.518},{"s":"j","t":12.75,"v":0.528},
{"s":"j","t":13,"v":0.406},{"s":"j","t":13.25,"v":0.420},{"s":"j","t":13.5,"v":0.276},{"s":"j","t":13.75,"v":0.286},{"s":"j","t":14,"v":0.286},
{"s":"j","t":14.25,"v":0.334},{"s":"j","t":14.5,"v":0.338},{"s":"j","t":14.75,"v":0.330},{"s":"j","t":15,"v":0.326},{"s":"j","t":15.25,"v":0.336},{"s":"j","t":15.5,"v":0.342},{"s":"j","t":15.75,"v":0.330},{"s":"j","t":16,"v":0.324},{"s":"j","t":16.25,"v":0.340},{"s":"j","t":16.5,"v":0.334},{"s":"j","t":16.75,"v":0.328},{"s":"j","t":17,"v":0.338},{"s":"j","t":17.25,"v":0.326},{"s":"j","t":17.5,"v":0.342},
{"s":"j","t":17.75,"v":0.144},{"s":"j","t":18,"v":0.148},{"s":"j","t":18.25,"v":0.142},{"s":"j","t":18.5,"v":0.150},{"s":"j","t":18.75,"v":0.146},{"s":"j","t":19,"v":0.152},{"s":"j","t":19.25,"v":0.158},
{"s":"j","t":19.5,"v":0.076},{"s":"j","t":19.75,"v":0.084},
{"s":"j","t":20,"v":0.027},{"s":"j","t":20.25,"v":0.024},{"s":"j","t":20.5,"v":0.026},{"s":"j","t":20.75,"v":0.025},{"s":"j","t":21,"v":0.027},{"s":"j","t":21.25,"v":0.026},{"s":"j","t":21.5,"v":0.024},{"s":"j","t":21.75,"v":0.025},{"s":"j","t":22,"v":0.028},{"s":"j","t":22.25,"v":0.026},{"s":"j","t":22.5,"v":0.025},{"s":"j","t":22.75,"v":0.024},{"s":"j","t":23,"v":0.027},{"s":"j","t":23.25,"v":0.026},{"s":"j","t":23.5,"v":0.025},{"s":"j","t":23.75,"v":0.023},{"s":"j","t":24,"v":0.027},

{"s":"k","t":0,"v":0.024},{"s":"k","t":0.25,"v":0.026},{"s":"k","t":0.5,"v":0.025},{"s":"k","t":0.75,"v":0.027},{"s":"k","t":1,"v":0.026},{"s":"k","t":1.25,"v":0.028},{"s":"k","t":1.5,"v":0.025},{"s":"k","t":1.75,"v":0.026},{"s":"k","t":2,"v":0.024},{"s":"k","t":2.25,"v":0.026},{"s":"k","t":2.5,"v":0.027},{"s":"k","t":2.75,"v":0.025},{"s":"k","t":3,"v":0.024},{"s":"k","t":3.25,"v":0.027},{"s":"k","t":3.5,"v":0.026},{"s":"k","t":3.75,"v":0.025},
{"s":"k","t":4,"v":0.037},{"s":"k","t":4.25,"v":0.036},{"s":"k","t":4.5,"v":0.034},{"s":"k","t":4.75,"v":0.038},{"s":"k","t":5,"v":0.037},{"s":"k","t":5.25,"v":0.035},
{"s":"k","t":5.5,"v":0.033},{"s":"k","t":5.75,"v":0.106},{"s":"k","t":6,"v":0.138},{"s":"k","t":6.25,"v":0.134},{"s":"k","t":6.5,"v":0.130},{"s":"k","t":6.75,"v":0.122},{"s":"k","t":7,"v":0.126},{"s":"k","t":7.25,"v":0.234},{"s":"k","t":7.5,"v":0.236},
{"s":"k","t":7.75,"v":0.316},{"s":"k","t":8,"v":0.302},{"s":"k","t":8.25,"v":0.276},{"s":"k","t":8.5,"v":0.278},{"s":"k","t":8.75,"v":0.268},{"s":"k","t":9,"v":0.288},{"s":"k","t":9.25,"v":0.266},
{"s":"k","t":9.5,"v":0.368},{"s":"k","t":9.75,"v":0.360},{"s":"k","t":10,"v":0.366},{"s":"k","t":10.25,"v":0.356},{"s":"k","t":10.5,"v":0.352},
{"s":"k","t":10.75,"v":0.462},{"s":"k","t":11,"v":0.470},{"s":"k","t":11.25,"v":0.476},{"s":"k","t":11.5,"v":0.458},{"s":"k","t":11.75,"v":0.482},{"s":"k","t":12,"v":0.478},
{"s":"k","t":12.25,"v":0.518},{"s":"k","t":12.5,"v":0.514},{"s":"k","t":12.75,"v":0.512},
{"s":"k","t":13,"v":0.396},{"s":"k","t":13.25,"v":0.404},{"s":"k","t":13.5,"v":0.280},{"s":"k","t":13.75,"v":0.278},{"s":"k","t":14,"v":0.288},
{"s":"k","t":14.25,"v":0.332},{"s":"k","t":14.5,"v":0.336},{"s":"k","t":14.75,"v":0.342},{"s":"k","t":15,"v":0.328},{"s":"k","t":15.25,"v":0.324},{"s":"k","t":15.5,"v":0.334},{"s":"k","t":15.75,"v":0.340},{"s":"k","t":16,"v":0.336},{"s":"k","t":16.25,"v":0.326},{"s":"k","t":16.5,"v":0.332},{"s":"k","t":16.75,"v":0.344},{"s":"k","t":17,"v":0.330},{"s":"k","t":17.25,"v":0.338},{"s":"k","t":17.5,"v":0.332},
{"s":"k","t":17.75,"v":0.138},{"s":"k","t":18,"v":0.156},{"s":"k","t":18.25,"v":0.146},{"s":"k","t":18.5,"v":0.138},{"s":"k","t":18.75,"v":0.152},{"s":"k","t":19,"v":0.144},{"s":"k","t":19.25,"v":0.148},
{"s":"k","t":19.5,"v":0.082},{"s":"k","t":19.75,"v":0.080},
{"s":"k","t":20,"v":0.026},{"s":"k","t":20.25,"v":0.025},{"s":"k","t":20.5,"v":0.024},{"s":"k","t":20.75,"v":0.026},{"s":"k","t":21,"v":0.028},{"s":"k","t":21.25,"v":0.025},{"s":"k","t":21.5,"v":0.027},{"s":"k","t":21.75,"v":0.026},{"s":"k","t":22,"v":0.024},{"s":"k","t":22.25,"v":0.025},{"s":"k","t":22.5,"v":0.027},{"s":"k","t":22.75,"v":0.025},{"s":"k","t":23,"v":0.026},{"s":"k","t":23.25,"v":0.024},{"s":"k","t":23.5,"v":0.027},{"s":"k","t":23.75,"v":0.025},{"s":"k","t":24,"v":0.026},

{"s":"l","t":0,"v":0.026},{"s":"l","t":0.25,"v":0.027},{"s":"l","t":0.5,"v":0.025},{"s":"l","t":0.75,"v":0.024},{"s":"l","t":1,"v":0.027},{"s":"l","t":1.25,"v":0.025},{"s":"l","t":1.5,"v":0.026},{"s":"l","t":1.75,"v":0.028},{"s":"l","t":2,"v":0.025},{"s":"l","t":2.25,"v":0.027},{"s":"l","t":2.5,"v":0.024},{"s":"l","t":2.75,"v":0.026},{"s":"l","t":3,"v":0.025},{"s":"l","t":3.25,"v":0.028},{"s":"l","t":3.5,"v":0.026},{"s":"l","t":3.75,"v":0.024},
{"s":"l","t":4,"v":0.035},{"s":"l","t":4.25,"v":0.038},{"s":"l","t":4.5,"v":0.036},{"s":"l","t":4.75,"v":0.037},{"s":"l","t":5,"v":0.034},{"s":"l","t":5.25,"v":0.037},
{"s":"l","t":5.5,"v":0.036},{"s":"l","t":5.75,"v":0.084},{"s":"l","t":6,"v":0.128},{"s":"l","t":6.25,"v":0.136},{"s":"l","t":6.5,"v":0.124},{"s":"l","t":6.75,"v":0.116},{"s":"l","t":7,"v":0.126},{"s":"l","t":7.25,"v":0.220},{"s":"l","t":7.5,"v":0.232},
{"s":"l","t":7.75,"v":0.330},{"s":"l","t":8,"v":0.300},{"s":"l","t":8.25,"v":0.270},{"s":"l","t":8.5,"v":0.282},{"s":"l","t":8.75,"v":0.272},{"s":"l","t":9,"v":0.266},{"s":"l","t":9.25,"v":0.260},
{"s":"l","t":9.5,"v":0.384},{"s":"l","t":9.75,"v":0.356},{"s":"l","t":10,"v":0.370},{"s":"l","t":10.25,"v":0.364},{"s":"l","t":10.5,"v":0.360},
{"s":"l","t":10.75,"v":0.476},{"s":"l","t":11,"v":0.464},{"s":"l","t":11.25,"v":0.472},{"s":"l","t":11.5,"v":0.474},{"s":"l","t":11.75,"v":0.470},{"s":"l","t":12,"v":0.482},
{"s":"l","t":12.25,"v":0.514},{"s":"l","t":12.5,"v":0.510},{"s":"l","t":12.75,"v":0.518},
{"s":"l","t":13,"v":0.402},{"s":"l","t":13.25,"v":0.396},{"s":"l","t":13.5,"v":0.270},{"s":"l","t":13.75,"v":0.284},{"s":"l","t":14,"v":0.292},
{"s":"l","t":14.25,"v":0.330},{"s":"l","t":14.5,"v":0.344},{"s":"l","t":14.75,"v":0.326},{"s":"l","t":15,"v":0.336},{"s":"l","t":15.25,"v":0.332},{"s":"l","t":15.5,"v":0.322},{"s":"l","t":15.75,"v":0.342},{"s":"l","t":16,"v":0.330},{"s":"l","t":16.25,"v":0.334},{"s":"l","t":16.5,"v":0.328},{"s":"l","t":16.75,"v":0.338},{"s":"l","t":17,"v":0.324},{"s":"l","t":17.25,"v":0.340},{"s":"l","t":17.5,"v":0.326},
{"s":"l","t":17.75,"v":0.136},{"s":"l","t":18,"v":0.152},{"s":"l","t":18.25,"v":0.140},{"s":"l","t":18.5,"v":0.156},{"s":"l","t":18.75,"v":0.144},{"s":"l","t":19,"v":0.154},{"s":"l","t":19.25,"v":0.150},
{"s":"l","t":19.5,"v":0.078},{"s":"l","t":19.75,"v":0.072},
{"s":"l","t":20,"v":0.025},{"s":"l","t":20.25,"v":0.027},{"s":"l","t":20.5,"v":0.026},{"s":"l","t":20.75,"v":0.024},{"s":"l","t":21,"v":0.025},{"s":"l","t":21.25,"v":0.028},{"s":"l","t":21.5,"v":0.026},{"s":"l","t":21.75,"v":0.025},{"s":"l","t":22,"v":0.027},{"s":"l","t":22.25,"v":0.024},{"s":"l","t":22.5,"v":0.026},{"s":"l","t":22.75,"v":0.027},{"s":"l","t":23,"v":0.025},{"s":"l","t":23.25,"v":0.024},{"s":"l","t":23.5,"v":0.028},{"s":"l","t":23.75,"v":0.026},{"s":"l","t":24,"v":0.025},

{"s":"m","t":0,"v":0.025},{"s":"m","t":0.25,"v":0.024},{"s":"m","t":0.5,"v":0.026},{"s":"m","t":0.75,"v":0.025},{"s":"m","t":1,"v":0.024},{"s":"m","t":1.25,"v":0.026},{"s":"m","t":1.5,"v":0.025},{"s":"m","t":1.75,"v":0.024},{"s":"m","t":2,"v":0.026},{"s":"m","t":2.25,"v":0.025},{"s":"m","t":2.5,"v":0.024},{"s":"m","t":2.75,"v":0.025},{"s":"m","t":3,"v":0.026},{"s":"m","t":3.25,"v":0.024},{"s":"m","t":3.5,"v":0.025},{"s":"m","t":3.75,"v":0.024},
{"s":"m","t":4,"v":0.035},{"s":"m","t":4.25,"v":0.036},{"s":"m","t":4.5,"v":0.034},{"s":"m","t":4.75,"v":0.036},{"s":"m","t":5,"v":0.035},{"s":"m","t":5.25,"v":0.034},
{"s":"m","t":5.5,"v":0.033},{"s":"m","t":5.75,"v":0.094},{"s":"m","t":6,"v":0.140},{"s":"m","t":6.25,"v":0.132},{"s":"m","t":6.5,"v":0.136},{"s":"m","t":6.75,"v":0.114},{"s":"m","t":7,"v":0.120},{"s":"m","t":7.25,"v":0.228},{"s":"m","t":7.5,"v":0.234},
{"s":"m","t":7.75,"v":0.310},{"s":"m","t":8,"v":0.296},{"s":"m","t":8.25,"v":0.270},{"s":"m","t":8.5,"v":0.286},{"s":"m","t":8.75,"v":0.272},{"s":"m","t":9,"v":0.290},{"s":"m","t":9.25,"v":0.262},
{"s":"m","t":9.5,"v":0.366},{"s":"m","t":9.75,"v":0.370},{"s":"m","t":10,"v":0.352},{"s":"m","t":10.25,"v":0.362},{"s":"m","t":10.5,"v":0.356},
{"s":"m","t":10.75,"v":0.458},{"s":"m","t":11,"v":0.462},{"s":"m","t":11.25,"v":0.468},{"s":"m","t":11.5,"v":0.466},{"s":"m","t":11.75,"v":0.474},{"s":"m","t":12,"v":0.468},
{"s":"m","t":12.25,"v":0.514},{"s":"m","t":12.5,"v":0.518},{"s":"m","t":12.75,"v":0.512},
{"s":"m","t":13,"v":0.396},{"s":"m","t":13.25,"v":0.400},{"s":"m","t":13.5,"v":0.266},{"s":"m","t":13.75,"v":0.272},{"s":"m","t":14,"v":0.290},
{"s":"m","t":14.25,"v":0.326},{"s":"m","t":14.5,"v":0.322},{"s":"m","t":14.75,"v":0.336},{"s":"m","t":15,"v":0.314},{"s":"m","t":15.25,"v":0.330},{"s":"m","t":15.5,"v":0.334},{"s":"m","t":15.75,"v":0.320},{"s":"m","t":16,"v":0.338},{"s":"m","t":16.25,"v":0.326},{"s":"m","t":16.5,"v":0.332},{"s":"m","t":16.75,"v":0.318},{"s":"m","t":17,"v":0.330},{"s":"m","t":17.25,"v":0.334},{"s":"m","t":17.5,"v":0.328},
{"s":"m","t":17.75,"v":0.140},{"s":"m","t":18,"v":0.146},{"s":"m","t":18.25,"v":0.142},{"s":"m","t":18.5,"v":0.136},{"s":"m","t":18.75,"v":0.150},{"s":"m","t":19,"v":0.142},{"s":"m","t":19.25,"v":0.146},
{"s":"m","t":19.5,"v":0.080},{"s":"m","t":19.75,"v":0.076},
{"s":"m","t":20,"v":0.024},{"s":"m","t":20.25,"v":0.025},{"s":"m","t":20.5,"v":0.024},{"s":"m","t":20.75,"v":0.026},{"s":"m","t":21,"v":0.024},{"s":"m","t":21.25,"v":0.025},{"s":"m","t":21.5,"v":0.026},{"s":"m","t":21.75,"v":0.024},{"s":"m","t":22,"v":0.025},{"s":"m","t":22.25,"v":0.024},{"s":"m","t":22.5,"v":0.026},{"s":"m","t":22.75,"v":0.024},{"s":"m","t":23,"v":0.025},{"s":"m","t":23.25,"v":0.026},{"s":"m","t":23.5,"v":0.024},{"s":"m","t":23.75,"v":0.025},{"s":"m","t":24,"v":0.024},

{"s":"n","t":0,"v":0.026},{"s":"n","t":0.25,"v":0.026},{"s":"n","t":0.5,"v":0.025},{"s":"n","t":0.75,"v":0.026},{"s":"n","t":1,"v":0.026},{"s":"n","t":1.25,"v":0.025},{"s":"n","t":1.5,"v":0.026},{"s":"n","t":1.75,"v":0.026},{"s":"n","t":2,"v":0.025},{"s":"n","t":2.25,"v":0.026},{"s":"n","t":2.5,"v":0.026},{"s":"n","t":2.75,"v":0.026},{"s":"n","t":3,"v":0.025},{"s":"n","t":3.25,"v":0.026},{"s":"n","t":3.5,"v":0.026},{"s":"n","t":3.75,"v":0.025},
{"s":"n","t":4,"v":0.038},{"s":"n","t":4.25,"v":0.038},{"s":"n","t":4.5,"v":0.037},{"s":"n","t":4.75,"v":0.037},{"s":"n","t":5,"v":0.036},{"s":"n","t":5.25,"v":0.035},
{"s":"n","t":5.5,"v":0.034},{"s":"n","t":5.75,"v":0.108},{"s":"n","t":6,"v":0.128},{"s":"n","t":6.25,"v":0.126},{"s":"n","t":6.5,"v":0.128},{"s":"n","t":6.75,"v":0.130},{"s":"n","t":7,"v":0.136},{"s":"n","t":7.25,"v":0.228},{"s":"n","t":7.5,"v":0.235},
{"s":"n","t":7.75,"v":0.304},{"s":"n","t":8,"v":0.288},{"s":"n","t":8.25,"v":0.274},{"s":"n","t":8.5,"v":0.270},{"s":"n","t":8.75,"v":0.268},{"s":"n","t":9,"v":0.266},{"s":"n","t":9.25,"v":0.264},
{"s":"n","t":9.5,"v":0.358},{"s":"n","t":9.75,"v":0.360},{"s":"n","t":10,"v":0.364},{"s":"n","t":10.25,"v":0.366},{"s":"n","t":10.5,"v":0.366},
{"s":"n","t":10.75,"v":0.456},{"s":"n","t":11,"v":0.460},{"s":"n","t":11.25,"v":0.464},{"s":"n","t":11.5,"v":0.468},{"s":"n","t":11.75,"v":0.474},{"s":"n","t":12,"v":0.480},
{"s":"n","t":12.25,"v":0.510},{"s":"n","t":12.5,"v":0.516},{"s":"n","t":12.75,"v":0.512},
{"s":"n","t":13,"v":0.396},{"s":"n","t":13.25,"v":0.400},{"s":"n","t":13.5,"v":0.276},{"s":"n","t":13.75,"v":0.280},{"s":"n","t":14,"v":0.290},
{"s":"n","t":14.25,"v":0.334},{"s":"n","t":14.5,"v":0.336},{"s":"n","t":14.75,"v":0.334},{"s":"n","t":15,"v":0.332},{"s":"n","t":15.25,"v":0.330},{"s":"n","t":15.5,"v":0.332},{"s":"n","t":15.75,"v":0.330},{"s":"n","t":16,"v":0.328},{"s":"n","t":16.25,"v":0.330},{"s":"n","t":16.5,"v":0.332},{"s":"n","t":16.75,"v":0.330},{"s":"n","t":17,"v":0.328},{"s":"n","t":17.25,"v":0.326},{"s":"n","t":17.5,"v":0.324},
{"s":"n","t":17.75,"v":0.140},{"s":"n","t":18,"v":0.148},{"s":"n","t":18.25,"v":0.152},{"s":"n","t":18.5,"v":0.150},{"s":"n","t":18.75,"v":0.146},{"s":"n","t":19,"v":0.150},{"s":"n","t":19.25,"v":0.152},
{"s":"n","t":19.5,"v":0.080},{"s":"n","t":19.75,"v":0.078},
{"s":"n","t":20,"v":0.025},{"s":"n","t":20.25,"v":0.026},{"s":"n","t":20.5,"v":0.025},{"s":"n","t":20.75,"v":0.025},{"s":"n","t":21,"v":0.026},{"s":"n","t":21.25,"v":0.025},{"s":"n","t":21.5,"v":0.026},{"s":"n","t":21.75,"v":0.026},{"s":"n","t":22,"v":0.025},{"s":"n","t":22.25,"v":0.025},{"s":"n","t":22.5,"v":0.026},{"s":"n","t":22.75,"v":0.025},{"s":"n","t":23,"v":0.026},{"s":"n","t":23.25,"v":0.025},{"s":"n","t":23.5,"v":0.026},{"s":"n","t":23.75,"v":0.025},{"s":"n","t":24,"v":0.025}
]},
"mark": {"type": "line", "strokeWidth": 2.75, "clip": true},
"encoding": {
"x": {"field": "t", "type": "quantitative",
 "scale": {"domain": [0, 24], "nice": false, "zero": false},
 "axis": {"values": [0, 6, 12, 18, 24], "title": "Time (hour)", "grid": false, "ticks": false,
  "domainColor": "#595959", "domainWidth": 1.5, "labelFontSize": 19, "labelColor": "#000000",
  "labelPadding": 22, "labelFlush": false, "titleFontSize": 19, "titleFontWeight": "normal",
  "titleColor": "#000000", "titlePadding": 11}},
"y": {"field": "v", "type": "quantitative",
 "scale": {"domain": [0, 0.6], "nice": false},
 "axis": {"values": [0, 0.2, 0.4, 0.6], "format": ".1~f", "title": "Power profile (MW)",
  "grid": true, "gridColor": "#D9D9D9", "gridWidth": 1, "ticks": false,
  "domainColor": "#595959", "domainWidth": 1, "labelFontSize": 19, "labelColor": "#000000",
  "labelPadding": 22, "labelFlush": false, "titleFontSize": 19, "titleFontWeight": "normal",
  "titleColor": "#000000", "titlePadding": 14}},
"color": {"field": "s", "type": "nominal", "legend": null,
 "scale": {"domain": ["a","b","c","d","e","f","g","h","i","j","k","l","m","n"],
  "range": ["#4472C4","#ED7D31","#A5A5A5","#FFC000","#5B9BD5","#70AD47","#264478","#9E480E","#636363","#997300","#255E91","#43682B","#7CAFDD","#F1975A"]}}
}
}
